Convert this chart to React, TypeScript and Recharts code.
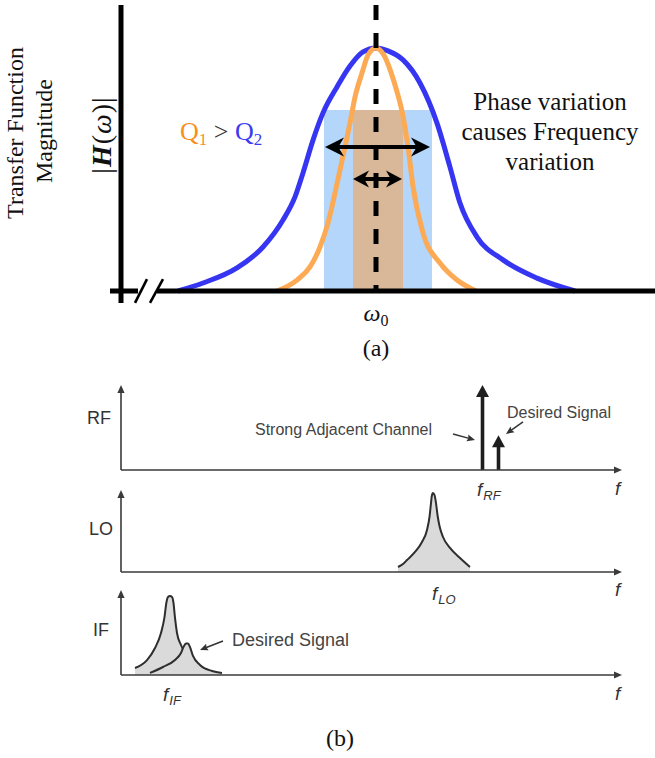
import React from 'react';
import { ComposedChart, Line, Area, Bar, XAxis, YAxis, ReferenceLine, ReferenceArea } from 'recharts';

const SERIF = '"Liberation Serif", "Times New Roman", serif';
const SANS = '"Liberation Sans", Arial, Helvetica, sans-serif';

// ---------------- (a) transfer function magnitude ----------------
const omegaDomain: [number, number] = [-13.3, 13.95];
const magDomain: [number, number] = [-0.0494, 1.177];

// low-Q (Q2, blue) response
const lowQCurve = [
  { w: -9.9, h: 0 }, { w: -8.65, h: 0.033 }, { w: -6.95, h: 0.095 }, { w: -5.65, h: 0.181 },
  { w: -4.65, h: 0.292 }, { w: -4.05, h: 0.387 }, { w: -3.65, h: 0.486 }, { w: -3.15, h: 0.621 },
  { w: -2.65, h: 0.733 }, { w: -1.95, h: 0.84 }, { w: -1.3, h: 0.926 }, { w: -0.65, h: 0.984 },
  { w: 0, h: 1 }, { w: 0.6, h: 0.988 }, { w: 1.35, h: 0.951 }, { w: 2.2, h: 0.856 },
  { w: 3.05, h: 0.691 }, { w: 3.7, h: 0.51 }, { w: 4.2, h: 0.362 }, { w: 5.05, h: 0.222 },
  { w: 6.35, h: 0.128 }, { w: 8.05, h: 0.053 }, { w: 9.95, h: 0 },
];
// high-Q (Q1, orange) response
const highQCurve = [
  { w: -4.95, h: 0 }, { w: -3.95, h: 0.045 }, { w: -3.3, h: 0.099 }, { w: -2.8, h: 0.181 },
  { w: -2.4, h: 0.28 }, { w: -2.05, h: 0.403 }, { w: -1.8, h: 0.498 }, { w: -1.55, h: 0.593 },
  { w: -1.3, h: 0.691 }, { w: -1.05, h: 0.798 }, { w: -0.7, h: 0.897 }, { w: -0.4, h: 0.971 },
  { w: 0, h: 1 }, { w: 0.4, h: 0.97 }, { w: 0.75, h: 0.9 }, { w: 1.05, h: 0.82 },
  { w: 1.3, h: 0.74 }, { w: 1.6, h: 0.593 }, { w: 1.85, h: 0.43 }, { w: 2.35, h: 0.239 },
  { w: 3.2, h: 0.115 }, { w: 4.05, h: 0.045 }, { w: 5.0, h: 0 },
];
const lowQBand = { from: -2.6, to: 2.8, top: 0.745 };
const highQBand = { from: -1.15, to: 1.35, top: 0.745 };
const lowQSpread = { from: -2.55, to: 2.7, level: 0.593 };
const highQSpread = { from: -1.15, to: 1.3, level: 0.461 };
const magAxisAt = -12.75;
const breakGap = { from: -11.9, to: -10.95 };
const breakMarks = [
  [{ x: -12.05, y: -0.049 }, { x: -11.45, y: 0.049 }],
  [{ x: -11.3, y: -0.049 }, { x: -10.65, y: 0.049 }],
];

// ---------------- (b) spectra ----------------
const freqDomain: [number, number] = [0, 100.8];
const levelDomain: [number, number] = [0, 1];
const freqAxisEnd = 100.2;
const rfSignals = [
  { f: 72.2, amp: 1.0 },
  { f: 75.4, amp: 0.41 },
];
const loPeak = [
  { f: 55.4, a: 0.061 }, { f: 56.4, a: 0.098 }, { f: 57.2, a: 0.146 }, { f: 58.8, a: 0.244 },
  { f: 60.2, a: 0.366 }, { f: 61.2, a: 0.512 }, { f: 61.7, a: 0.671 }, { f: 62.0, a: 0.841 },
  { f: 62.16, a: 0.927 }, { f: 62.4, a: 0.963 }, { f: 62.7, a: 0.939 }, { f: 63.0, a: 0.841 },
  { f: 63.3, a: 0.695 }, { f: 63.7, a: 0.561 }, { f: 64.4, a: 0.427 }, { f: 65.8, a: 0.293 },
  { f: 67.8, a: 0.171 }, { f: 69.8, a: 0.061 },
];
const ifAdjacent = [
  { f: 2.8, a: 0.082 }, { f: 5.2, a: 0.176 }, { f: 6.8, a: 0.318 }, { f: 8.0, a: 0.494 },
  { f: 8.7, a: 0.682 }, { f: 9.1, a: 0.859 }, { f: 9.4, a: 0.918 }, { f: 9.8, a: 0.929 },
  { f: 10.2, a: 0.918 }, { f: 10.5, a: 0.847 }, { f: 10.8, a: 0.671 }, { f: 11.2, a: 0.494 },
  { f: 12.0, a: 0.353 }, { f: 13.0, a: 0.235 }, { f: 14.8, a: 0.129 }, { f: 16.8, a: 0.059 },
];
const ifDesired = [
  { f: 5.8, a: 0.024 }, { f: 8.4, a: 0.094 }, { f: 10.8, a: 0.176 }, { f: 12.0, a: 0.259 },
  { f: 12.6, a: 0.341 }, { f: 13.0, a: 0.371 }, { f: 13.4, a: 0.371 }, { f: 13.8, a: 0.329 },
  { f: 14.4, a: 0.224 }, { f: 15.8, a: 0.118 }, { f: 18.2, a: 0.047 }, { f: 20.2, a: 0.024 },
];
const rfPointers = [
  [{ x: 66.4, y: 0.424 }, { x: 70.8, y: 0.353 }],
  [{ x: 80.4, y: 0.565 }, { x: 77.0, y: 0.424 }],
];
const ifPointer = [{ x: 20.4, y: 0.4 }, { x: 15.8, y: 0.294 }];

// ---------------- shapes ----------------
type ArrowOpts = { color: string; width: number; len: number; half: number; notch: number; start?: boolean; end?: boolean };
const makeArrow = (o: ArrowOpts) => (p: any) => {
  const x1 = Number(p.x1), y1 = Number(p.y1), x2 = Number(p.x2), y2 = Number(p.y2);
  const dx = x2 - x1, dy = y2 - y1;
  const L = Math.hypot(dx, dy) || 1;
  const ux = dx / L, uy = dy / L, nx = -uy, ny = ux;
  const head = (tx: number, ty: number, sx: number, sy: number) => {
    const bx = tx - sx * o.len, by = ty - sy * o.len;
    const mx = tx - sx * o.len * (1 - o.notch), my = ty - sy * o.len * (1 - o.notch);
    return `${tx},${ty} ${bx + nx * o.half},${by + ny * o.half} ${mx},${my} ${bx - nx * o.half},${by - ny * o.half}`;
  };
  const inset = o.len * (1 - o.notch) * 0.9;
  const lx1 = o.start ? x1 + ux * inset : x1, ly1 = o.start ? y1 + uy * inset : y1;
  const lx2 = o.end ? x2 - ux * inset : x2, ly2 = o.end ? y2 - uy * inset : y2;
  return (
    <g>
      <line x1={lx1} y1={ly1} x2={lx2} y2={ly2} stroke={o.color} strokeWidth={o.width} />
      {o.end ? <polygon points={head(x2, y2, ux, uy)} fill={o.color} /> : null}
      {o.start ? <polygon points={head(x1, y1, -ux, -uy)} fill={o.color} /> : null}
    </g>
  );
};

const bigSpread = makeArrow({ color: '#000', width: 4, len: 19, half: 9.5, notch: 0.3, start: true, end: true });
const smallSpread = makeArrow({ color: '#000', width: 4, len: 16, half: 8.5, notch: 0.3, start: true, end: true });
const panelAxis = makeArrow({ color: '#3a3a3a', width: 1.6, len: 8, half: 3.6, notch: 0, end: true });
const pointer = makeArrow({ color: '#333', width: 1.5, len: 8, half: 3.5, notch: 0.15, end: true });

const SpikeShape = (props: any) => {
  const { x, y, width, height } = props;
  const cx = x + width / 2;
  const headH = 12, headW = 6.5;
  return (
    <g>
      <line x1={cx} y1={y + height} x2={cx} y2={y + headH - 1} stroke="#1e1e1e" strokeWidth={3.6} />
      <polygon points={`${cx},${y} ${cx - headW},${y + headH} ${cx + headW},${y + headH}`} fill="#1e1e1e" />
    </g>
  );
};

// ---------------- text helpers ----------------
const abs = (s: React.CSSProperties): React.CSSProperties => ({ position: 'absolute', whiteSpace: 'nowrap', lineHeight: 1, ...s });
const centered = (cx: number, cy: number, s: React.CSSProperties = {}, rot = false): React.CSSProperties =>
  abs({ left: cx, top: cy, transform: rot ? 'translate(-50%,-50%) rotate(-90deg)' : 'translate(-50%,-50%)', ...s });

const FLabel = ({ left, top, sub }: { left: number; top: number; sub?: string }) => (
  <div style={abs({ left, top, fontFamily: SANS, fontStyle: 'italic', fontSize: 19, color: '#333' })}>
    f{sub ? <span style={{ fontSize: 13, position: 'relative', top: 4, marginLeft: 1 }}>{sub}</span> : null}
  </div>
);

const panelLabels = [
  { text: 'RF', cx: 99, cy: 418 },
  { text: 'LO', cx: 101, cy: 529 },
  { text: 'IF', cx: 101, cy: 630 },
];
const freqLabels = [
  { sub: 'RF', left: 477, top: 480 },
  { sub: 'LO', left: 432, top: 584 },
  { sub: 'IF', left: 163, top: 685 },
  { sub: '', left: 615, top: 479 },
  { sub: '', left: 615, top: 580 },
  { sub: '', left: 615, top: 684 },
];

export default function App() {
  return (
    <div style={{ position: 'absolute', left: 0, top: 0, width: 655, height: 758, background: '#fff', overflow: 'hidden' }}>
      {/* (a) */}
      <div style={{ position: 'absolute', left: 0, top: 0 }}>
        <ComposedChart width={655} height={370} margin={{ top: 5, right: 0, bottom: 67, left: 110 }}>
          <XAxis type="number" dataKey="w" domain={omegaDomain} hide allowDataOverflow />
          <YAxis type="number" domain={magDomain} hide allowDataOverflow />
          <ReferenceArea x1={lowQBand.from} x2={lowQBand.to} y1={0} y2={lowQBand.top} fill="#b3d6fa" fillOpacity={1} stroke="none" ifOverflow="visible" />
          <ReferenceArea x1={highQBand.from} x2={highQBand.to} y1={0} y2={highQBand.top} fill="#d8b898" fillOpacity={1} stroke="none" ifOverflow="visible" />
          <Line data={lowQCurve} dataKey="h" type="monotone" stroke="#3535f2" strokeWidth={5} dot={false} activeDot={false} isAnimationActive={false} />
          <Line data={highQCurve} dataKey="h" type="monotone" stroke="#fdaa55" strokeWidth={5} dot={false} activeDot={false} isAnimationActive={false} />
          <ReferenceLine segment={[{ x: 0, y: magDomain[1] }, { x: 0, y: 0 }]} stroke="#000" strokeWidth={5} strokeDasharray="15 13" ifOverflow="visible" />
          <ReferenceLine x={magAxisAt} stroke="#000" strokeWidth={5} ifOverflow="visible" />
          <ReferenceLine y={0} stroke="#000" strokeWidth={5} ifOverflow="visible" />
          <ReferenceLine segment={[{ x: breakGap.from, y: 0 }, { x: breakGap.to, y: 0 }]} stroke="#fff" strokeWidth={7} ifOverflow="visible" />
          {breakMarks.map((seg, i) => (
            <ReferenceLine key={'b' + i} segment={seg} stroke="#000" strokeWidth={2.6} ifOverflow="visible" />
          ))}
          <ReferenceLine segment={[{ x: lowQSpread.from, y: lowQSpread.level }, { x: lowQSpread.to, y: lowQSpread.level }]} shape={bigSpread} ifOverflow="visible" />
          <ReferenceLine segment={[{ x: highQSpread.from, y: highQSpread.level }, { x: highQSpread.to, y: highQSpread.level }]} shape={smallSpread} ifOverflow="visible" />
        </ComposedChart>
      </div>

      {/* (b) RF */}
      <div style={{ position: 'absolute', left: 0, top: 375 }}>
        <ComposedChart width={655} height={105} data={rfSignals} margin={{ top: 10, right: 30, bottom: 10, left: 121 }}>
          <XAxis type="number" dataKey="f" domain={freqDomain} hide allowDataOverflow />
          <YAxis type="number" domain={levelDomain} hide allowDataOverflow />
          <ReferenceLine segment={[{ x: 0, y: 0 }, { x: freqAxisEnd, y: 0 }]} shape={panelAxis} ifOverflow="visible" />
          <ReferenceLine segment={[{ x: 0, y: 0 }, { x: 0, y: 1 }]} shape={panelAxis} ifOverflow="visible" />
          <Bar dataKey="amp" barSize={13} shape={SpikeShape} isAnimationActive={false} />
          {rfPointers.map((seg, i) => (
            <ReferenceLine key={'p' + i} segment={seg} shape={pointer} ifOverflow="visible" />
          ))}
        </ComposedChart>
      </div>

      {/* (b) LO */}
      <div style={{ position: 'absolute', left: 0, top: 480 }}>
        <ComposedChart width={655} height={102} margin={{ top: 10, right: 30, bottom: 10, left: 121 }}>
          <XAxis type="number" dataKey="f" domain={freqDomain} hide allowDataOverflow />
          <YAxis type="number" domain={levelDomain} hide allowDataOverflow />
          <Area data={loPeak} dataKey="a" type="monotone" baseValue={0} stroke="#2e2e2e" strokeWidth={2} fill="#dadada" fillOpacity={1} dot={false} activeDot={false} isAnimationActive={false} />
          <ReferenceLine segment={[{ x: 0, y: 0 }, { x: freqAxisEnd, y: 0 }]} shape={panelAxis} ifOverflow="visible" />
          <ReferenceLine segment={[{ x: 0, y: 0 }, { x: 0, y: 1 }]} shape={panelAxis} ifOverflow="visible" />
        </ComposedChart>
      </div>

      {/* (b) IF */}
      <div style={{ position: 'absolute', left: 0, top: 580 }}>
        <ComposedChart width={655} height={105} margin={{ top: 10, right: 30, bottom: 10, left: 121 }}>
          <XAxis type="number" dataKey="f" domain={freqDomain} hide allowDataOverflow />
          <YAxis type="number" domain={levelDomain} hide allowDataOverflow />
          <Area data={ifAdjacent} dataKey="a" type="monotone" baseValue={0} stroke="#2e2e2e" strokeWidth={2} fill="#dadada" fillOpacity={1} dot={false} activeDot={false} isAnimationActive={false} />
          <Area data={ifDesired} dataKey="a" type="monotone" baseValue={0} stroke="#2e2e2e" strokeWidth={2} fill="#dadada" fillOpacity={1} dot={false} activeDot={false} isAnimationActive={false} />
          <ReferenceLine segment={[{ x: 0, y: 0 }, { x: freqAxisEnd, y: 0 }]} shape={panelAxis} ifOverflow="visible" />
          <ReferenceLine segment={[{ x: 0, y: 0 }, { x: 0, y: 1 }]} shape={panelAxis} ifOverflow="visible" />
          <ReferenceLine segment={ifPointer} shape={pointer} ifOverflow="visible" />
        </ComposedChart>
      </div>

      {/* text of (a) */}
      <div style={centered(15, 133, { fontFamily: SERIF, fontSize: 24, color: '#111' }, true)}>Transfer Function</div>
      <div style={centered(44, 131, { fontFamily: SERIF, fontSize: 24, color: '#111' }, true)}>Magnitude</div>
      <div style={centered(102, 135, { fontFamily: SERIF, fontSize: 28, letterSpacing: 1, color: '#111' }, true)}>
        |<span style={{ fontWeight: 'bold', fontStyle: 'italic' }}>H</span>(<span style={{ fontStyle: 'italic' }}>ω</span>)|
      </div>
      <div style={abs({ left: 180, top: 132, transform: 'translateY(-50%)', fontFamily: SERIF, fontSize: 26 })}>
        <span style={{ color: '#f7901e' }}>Q<span style={{ fontSize: 17, position: 'relative', top: 5 }}>1</span></span>
        <span style={{ color: '#333' }}> &gt; </span>
        <span style={{ color: '#3b3bf0' }}>Q<span style={{ fontSize: 17, position: 'relative', top: 5 }}>2</span></span>
      </div>
      <div style={abs({ left: 440, top: 87, width: 220, textAlign: 'center', lineHeight: '30px', fontFamily: SERIF, fontSize: 25, color: '#111', whiteSpace: 'normal' })}>
        Phase variation<br />causes Frequency<br />variation
      </div>
      <div style={centered(376, 313, { fontFamily: SERIF, fontSize: 24, color: '#111' })}>
        <span style={{ fontStyle: 'italic' }}>ω</span><span style={{ fontSize: 16, position: 'relative', top: 5 }}>0</span>
      </div>
      <div style={centered(376, 348, { fontFamily: SERIF, fontSize: 24, color: '#111' })}>(a)</div>

      {/* text of (b) */}
      {panelLabels.map((l) => (
        <div key={l.text} style={centered(l.cx, l.cy, { fontFamily: SANS, fontSize: 18, color: '#333' })}>{l.text}</div>
      ))}
      <div style={abs({ left: 255, top: 430, transform: 'translateY(-50%)', fontFamily: SANS, fontSize: 16, color: '#444' })}>Strong Adjacent Channel</div>
      <div style={abs({ left: 507, top: 413, transform: 'translateY(-50%)', fontFamily: SANS, fontSize: 16, color: '#444' })}>Desired Signal</div>
      <div style={abs({ left: 232, top: 640, transform: 'translateY(-50%)', fontFamily: SANS, fontSize: 18, color: '#444' })}>Desired Signal</div>
      {freqLabels.map((l, i) => (
        <FLabel key={i} left={l.left} top={l.top} sub={l.sub} />
      ))}
      <div style={centered(340, 738, { fontFamily: SERIF, fontSize: 24, color: '#111' })}>(b)</div>
    </div>
  );
}
